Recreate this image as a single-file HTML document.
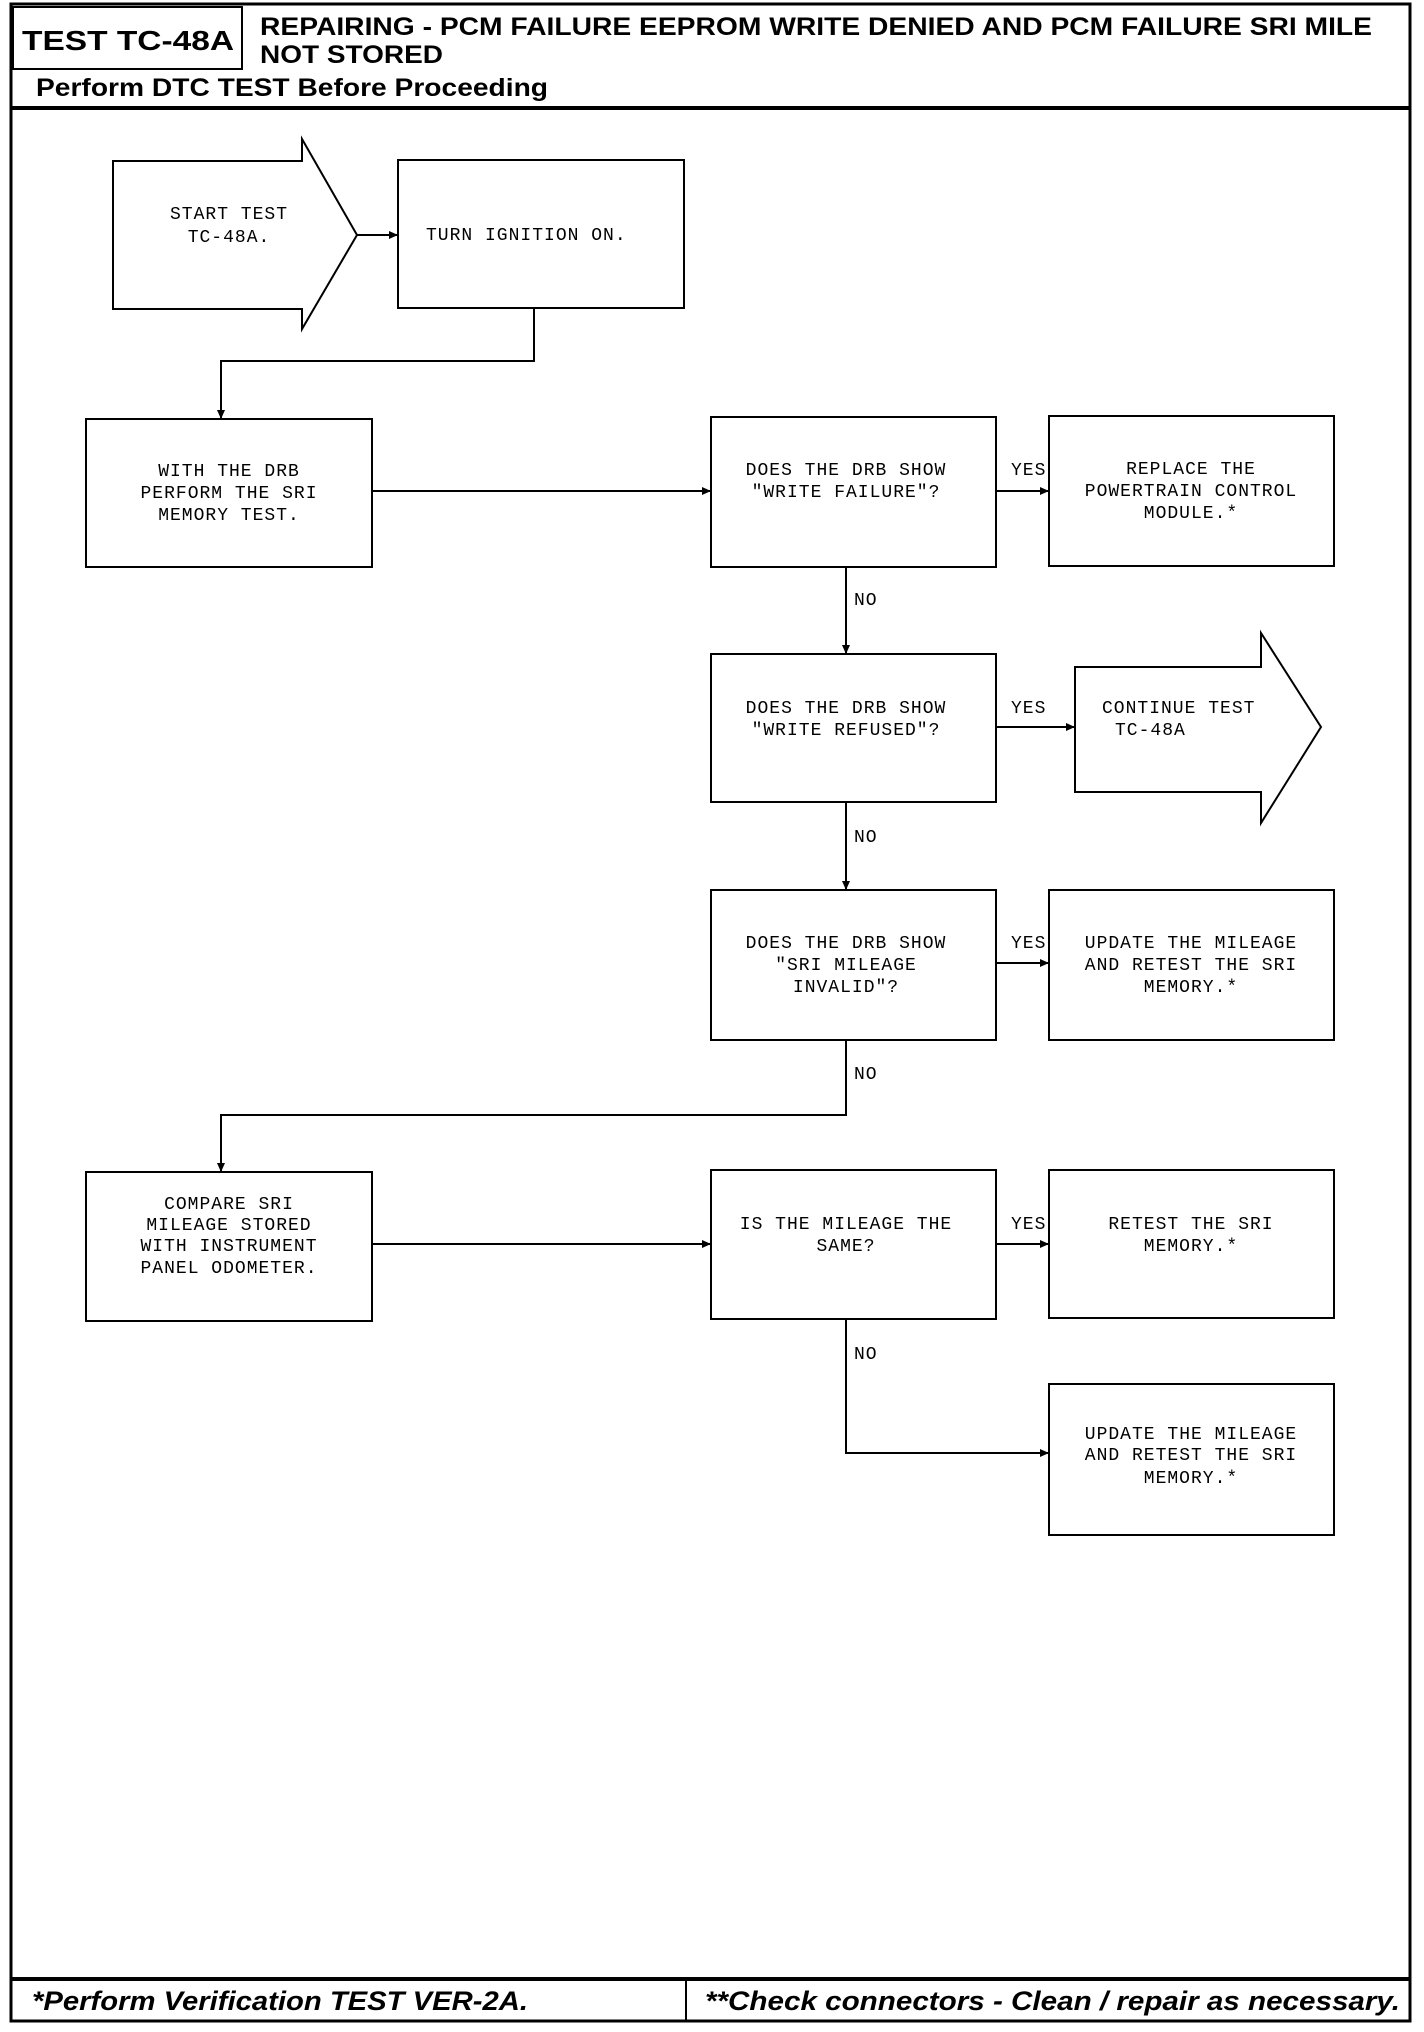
<!DOCTYPE html>
<html><head><meta charset="utf-8"><style>
html,body{margin:0;padding:0;background:#fff;}
svg{display:block;}
.t{font-family:"Liberation Mono",monospace;font-size:18px;fill:#000;letter-spacing:1px;}
.h{font-family:"Liberation Sans",sans-serif;font-weight:bold;fill:#000;}
</style></head><body>
<svg width="1424" height="2032" viewBox="0 0 1424 2032" xmlns="http://www.w3.org/2000/svg">
<defs><marker id="a" markerWidth="10" markerHeight="10" refX="9" refY="5" orient="auto" markerUnits="userSpaceOnUse"><path d="M0,1 L9,5 L0,9 Z" fill="#000"/></marker></defs>
<g fill="none" stroke="#000">
<rect x="11" y="4" width="1399" height="2017" stroke-width="3"/>
<rect x="13" y="7" width="229" height="62" stroke-width="2"/>
<line x1="11" y1="108" x2="1410" y2="108" stroke-width="4"/>
<line x1="11" y1="1979" x2="1410" y2="1979" stroke-width="4"/>
<line x1="686" y1="1979" x2="686" y2="2021" stroke-width="2"/>
<g stroke-width="2">
<path d="M113,161 H302 V139 L357,235 L302,329 V309 H113 Z"/>
<rect x="398" y="160" width="286" height="148"/>
<rect x="86" y="419" width="286" height="148"/>
<rect x="711" y="417" width="285" height="150"/>
<rect x="1049" y="416" width="285" height="150"/>
<rect x="711" y="654" width="285" height="148"/>
<path d="M1075,667 H1261 V633 L1321,727 L1261,823 V792 H1075 Z"/>
<rect x="711" y="890" width="285" height="150"/>
<rect x="1049" y="890" width="285" height="150"/>
<rect x="86" y="1172" width="286" height="149"/>
<rect x="711" y="1170" width="285" height="149"/>
<rect x="1049" y="1170" width="285" height="148"/>
<rect x="1049" y="1384" width="285" height="151"/>
</g>
<g stroke-width="2" marker-end="url(#a)">
<line x1="357" y1="235" x2="398" y2="235"/>
<polyline points="534,308 534,361 221,361 221,419"/>
<line x1="372" y1="491" x2="711" y2="491"/>
<line x1="996" y1="491" x2="1049" y2="491"/>
<line x1="846" y1="567" x2="846" y2="654"/>
<line x1="996" y1="727" x2="1075" y2="727"/>
<line x1="846" y1="802" x2="846" y2="890"/>
<line x1="996" y1="963" x2="1049" y2="963"/>
<polyline points="846,1040 846,1115 221,1115 221,1172"/>
<line x1="372" y1="1244" x2="711" y2="1244"/>
<line x1="996" y1="1244" x2="1049" y2="1244"/>
<polyline points="846,1319 846,1453 1049,1453"/>
</g>
</g>
<text class="h" x="22" y="50" font-size="28" textLength="212" lengthAdjust="spacingAndGlyphs">TEST TC-48A</text>
<text class="h" x="260" y="35" font-size="25" textLength="1112" lengthAdjust="spacingAndGlyphs">REPAIRING - PCM FAILURE EEPROM WRITE DENIED AND PCM FAILURE SRI MILE</text>
<text class="h" x="260" y="63" font-size="25" textLength="183" lengthAdjust="spacingAndGlyphs">NOT STORED</text>
<text class="h" x="36" y="96" font-size="25" textLength="512" lengthAdjust="spacingAndGlyphs">Perform DTC TEST Before Proceeding</text>
<text class="h" x="32" y="2010" font-size="27" font-style="italic" textLength="496" lengthAdjust="spacingAndGlyphs">*Perform Verification TEST VER-2A.</text>
<text class="h" x="705" y="2010" font-size="27" font-style="italic" textLength="695" lengthAdjust="spacingAndGlyphs">**Check connectors - Clean / repair as necessary.</text>
<g class="t" text-anchor="middle">
<text x="229" y="219">START TEST</text><text x="229" y="242">TC-48A.</text>
<text x="229" y="476">WITH THE DRB</text><text x="229" y="498">PERFORM THE SRI</text><text x="229" y="520">MEMORY TEST.</text>
<text x="846" y="475">DOES THE DRB SHOW</text><text x="846" y="497">"WRITE FAILURE"?</text>
<text x="1191" y="474">REPLACE THE</text><text x="1191" y="496">POWERTRAIN CONTROL</text><text x="1191" y="518">MODULE.*</text>
<text x="846" y="713">DOES THE DRB SHOW</text><text x="846" y="735">"WRITE REFUSED"?</text>
<text x="846" y="948">DOES THE DRB SHOW</text><text x="846" y="970">"SRI MILEAGE</text><text x="846" y="992">INVALID"?</text>
<text x="1191" y="948">UPDATE THE MILEAGE</text><text x="1191" y="970">AND RETEST THE SRI</text><text x="1191" y="992">MEMORY.*</text>
<text x="229" y="1209">COMPARE SRI</text><text x="229" y="1230">MILEAGE STORED</text><text x="229" y="1251">WITH INSTRUMENT</text><text x="229" y="1273">PANEL ODOMETER.</text>
<text x="846" y="1229">IS THE MILEAGE THE</text><text x="846" y="1251">SAME?</text>
<text x="1191" y="1229">RETEST THE SRI</text><text x="1191" y="1251">MEMORY.*</text>
<text x="1191" y="1439">UPDATE THE MILEAGE</text><text x="1191" y="1460">AND RETEST THE SRI</text><text x="1191" y="1483">MEMORY.*</text>
</g>
<g class="t">
<text x="426" y="240">TURN IGNITION ON.</text>
<text x="1102" y="713">CONTINUE TEST</text><text x="1115" y="735">TC-48A</text>
<text x="1011" y="475">YES</text><text x="1011" y="713">YES</text><text x="1011" y="948">YES</text><text x="1011" y="1229">YES</text>
<text x="854" y="605">NO</text><text x="854" y="842">NO</text><text x="854" y="1079">NO</text><text x="854" y="1359">NO</text>
</g>
</svg>
</body></html>
